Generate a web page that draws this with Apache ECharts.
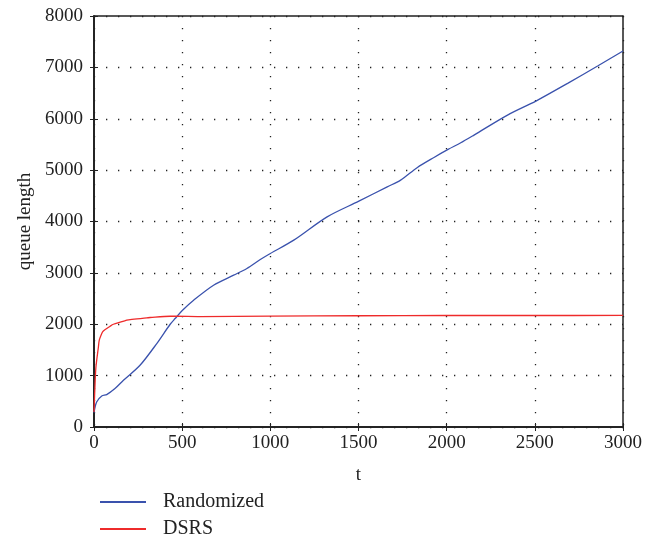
<!DOCTYPE html>
<html>
<head>
<meta charset="utf-8">
<script src="https://cdn.jsdelivr.net/npm/echarts@6/dist/echarts.min.js"></script>
<style>
  html, body { margin: 0; padding: 0; background: #fff; }
  #main { width: 663px; height: 538px; }
</style>
</head>
<body>
<div id="main"></div>
<script>
// values
var randT = [0, 15, 44, 72, 119, 167, 261, 356, 432, 460, 502, 565, 678, 792, 867, 943, 1000, 1133, 1322, 1502, 1663, 1739, 1834, 1928, 2008, 2080, 2155, 2345, 2506, 2686, 2856, 3000];
var randQ = [280, 487, 604, 631, 748, 910, 1202, 1624, 2000, 2111, 2273, 2468, 2760, 2955, 3085, 3260, 3378, 3637, 4091, 4396, 4675, 4805, 5052, 5247, 5403, 5532, 5682, 6071, 6344, 6689, 7026, 7318];

var dsrsT = [0, 6, 11, 25, 30, 44, 53, 91, 110, 186, 205, 299, 318, 432, 460, 600, 1000, 1500, 2000, 2500, 3000];
var dsrsQ = [290, 845, 1169, 1558, 1690, 1819, 1870, 1961, 2000, 2078, 2092, 2123, 2131, 2156, 2156, 2150, 2160, 2165, 2170, 2170, 2172];

var xTicks = [0, 500, 1000, 1500, 2000, 2500, 3000];
var yTicks = [0, 1000, 2000, 3000, 4000, 5000, 6000, 7000, 8000];

var font = "'Liberation Serif', 'DejaVu Serif', serif";

function pairs(xs, ys) {
  return xs.map(function (x, i) { return [x, ys[i]]; });
}

function plain(v) { return String(v); }

function legendRow(name, top) {
  return {
    orient: 'vertical',
    left: 95, top: top,
    itemWidth: 46, itemHeight: 2,
    icon: 'rect',
    textStyle: { fontFamily: font, fontSize: 20, color: '#222', padding: [0, 0, 0, 12] },
    data: [name]
  };
}

var chart = echarts.init(document.getElementById('main'));

var option = {
  animation: false,
  backgroundColor: '#fff',
  textStyle: { fontFamily: font, color: '#222' },
  grid: {
    left: 94, right: 40, top: 16, bottom: 111,
    show: true, borderColor: '#222', borderWidth: 1.5
  },
  legend: [legendRow('Randomized', 487), legendRow('DSRS', 514)],
  xAxis: [{
    type: 'value',
    min: xTicks[0], max: xTicks[xTicks.length - 1], interval: 500,
    name: 't', nameLocation: 'middle', nameGap: 39,
    nameTextStyle: { fontFamily: font, fontSize: 19, color: '#222' },
    axisLine: { lineStyle: { color: '#222', width: 1.5 } },
    axisTick: { inside: true, length: 4, lineStyle: { color: '#222' } },
    axisLabel: { fontFamily: font, fontSize: 19, color: '#222', margin: 7, formatter: plain },
    splitLine: { show: true, lineStyle: { color: '#222', type: [1.3, 10.7], width: 1.3 } }
  }, {
    type: 'value', position: 'top',
    min: xTicks[0], max: xTicks[xTicks.length - 1], interval: 500,
    axisLine: { show: true, lineStyle: { color: '#222', width: 1.5 } },
    axisTick: { show: true, inside: true, length: 4, lineStyle: { color: '#222' } },
    axisLabel: { show: false },
    splitLine: { show: false }
  }],
  yAxis: [{
    type: 'value',
    min: yTicks[0], max: yTicks[yTicks.length - 1], interval: 1000,
    name: 'queue length', nameLocation: 'middle', nameGap: 58,
    nameTextStyle: { fontFamily: font, fontSize: 19, color: '#222' },
    axisLine: { show: true, lineStyle: { color: '#222', width: 1.5 } },
    axisTick: { show: true, inside: true, length: 4, lineStyle: { color: '#222' } },
    axisLabel: { fontFamily: font, fontSize: 19, color: '#222', margin: 11, formatter: plain },
    splitLine: { show: true, lineStyle: { color: '#222', type: [1.3, 10.7], width: 1.3 } }
  }, {
    type: 'value', position: 'right',
    min: yTicks[0], max: yTicks[yTicks.length - 1], interval: 1000,
    axisLine: { show: true, lineStyle: { color: '#222', width: 1.5 } },
    axisTick: { show: true, inside: true, length: 4, lineStyle: { color: '#222' } },
    axisLabel: { show: false },
    splitLine: { show: false }
  }],
  series: [{
    name: 'Randomized',
    type: 'line',
    data: pairs(randT, randQ),
    smooth: 0.3,
    showSymbol: false,
    color: '#3a52ad',
    lineStyle: { width: 1.3, color: '#3a52ad' }
  }, {
    name: 'DSRS',
    type: 'line',
    data: pairs(dsrsT, dsrsQ),
    smooth: 0.3,
    showSymbol: false,
    color: '#ee2b2b',
    lineStyle: { width: 1.3, color: '#ee2b2b' }
  }]
};

chart.setOption(option);
</script>
</body>
</html>
